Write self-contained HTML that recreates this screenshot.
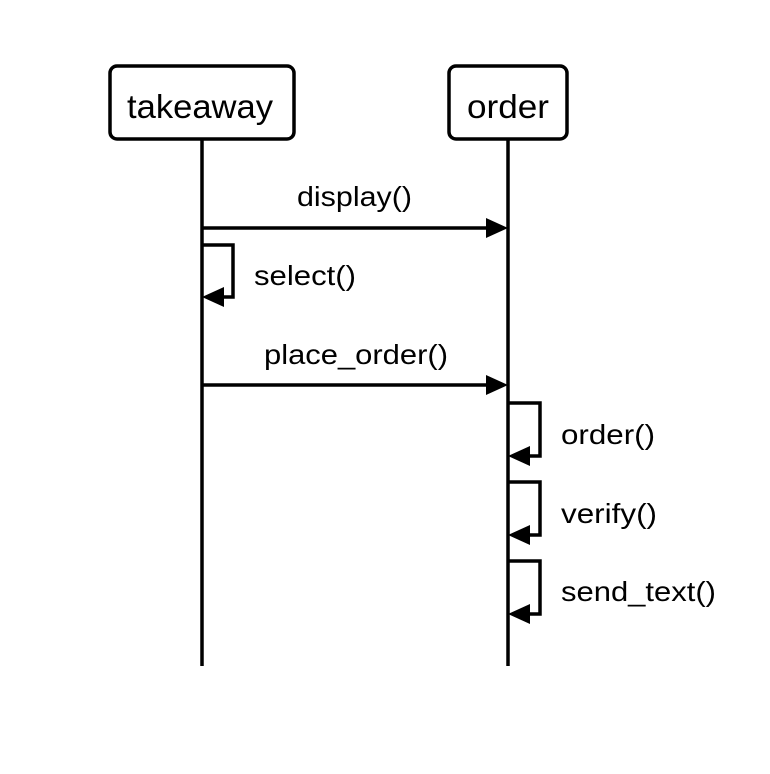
<!DOCTYPE html>
<html><head><style>body{margin:0;background:#fff}svg{display:block}text{font-family:"Liberation Sans",Arial,sans-serif;fill:#000}</style></head>
<body>
<svg width="770" height="774" viewBox="0 0 770 774">
<g stroke="#000" stroke-width="3.5" fill="none">
<rect x="110" y="66" width="184" height="73" rx="7" fill="#fff"/>
<rect x="449" y="66" width="118" height="73" rx="7" fill="#fff"/>
<line x1="202" y1="139" x2="202" y2="666"/>
<line x1="508" y1="139" x2="508" y2="666"/>
<line x1="202" y1="228" x2="490" y2="228"/>
<line x1="202" y1="385" x2="490" y2="385"/>
<polyline points="202,245 233,245 233,297 220,297"/>
<polyline points="508,403 540,403 540,456 526,456"/>
<polyline points="508,482 540,482 540,535 526,535"/>
<polyline points="508,561 540,561 540,614 526,614"/>
</g>
<g fill="#000">
<polygon points="508,228 486,218 486,238"/>
<polygon points="508,385 486,375 486,395"/>
<polygon points="202,297 224,287 224,307"/>
<polygon points="508,456 530,446 530,466"/>
<polygon points="508,535 530,525 530,545"/>
<polygon points="508,614 530,604 530,624"/>
</g>
<text x="127" y="118" font-size="33" textLength="146" lengthAdjust="spacingAndGlyphs">takeaway</text>
<text x="467" y="118" font-size="33" textLength="82" lengthAdjust="spacingAndGlyphs">order</text>
<text x="297" y="206" font-size="28" textLength="115" lengthAdjust="spacingAndGlyphs">display()</text>
<text x="264" y="364" font-size="28" textLength="184" lengthAdjust="spacingAndGlyphs">place_order()</text>
<text x="254" y="285" font-size="28" textLength="102" lengthAdjust="spacingAndGlyphs">select()</text>
<text x="561" y="444" font-size="28" textLength="94" lengthAdjust="spacingAndGlyphs">order()</text>
<text x="561" y="523" font-size="28" textLength="96" lengthAdjust="spacingAndGlyphs">verify()</text>
<text x="561" y="601" font-size="28" textLength="155" lengthAdjust="spacingAndGlyphs">send_text()</text>
</svg>
</body></html>
